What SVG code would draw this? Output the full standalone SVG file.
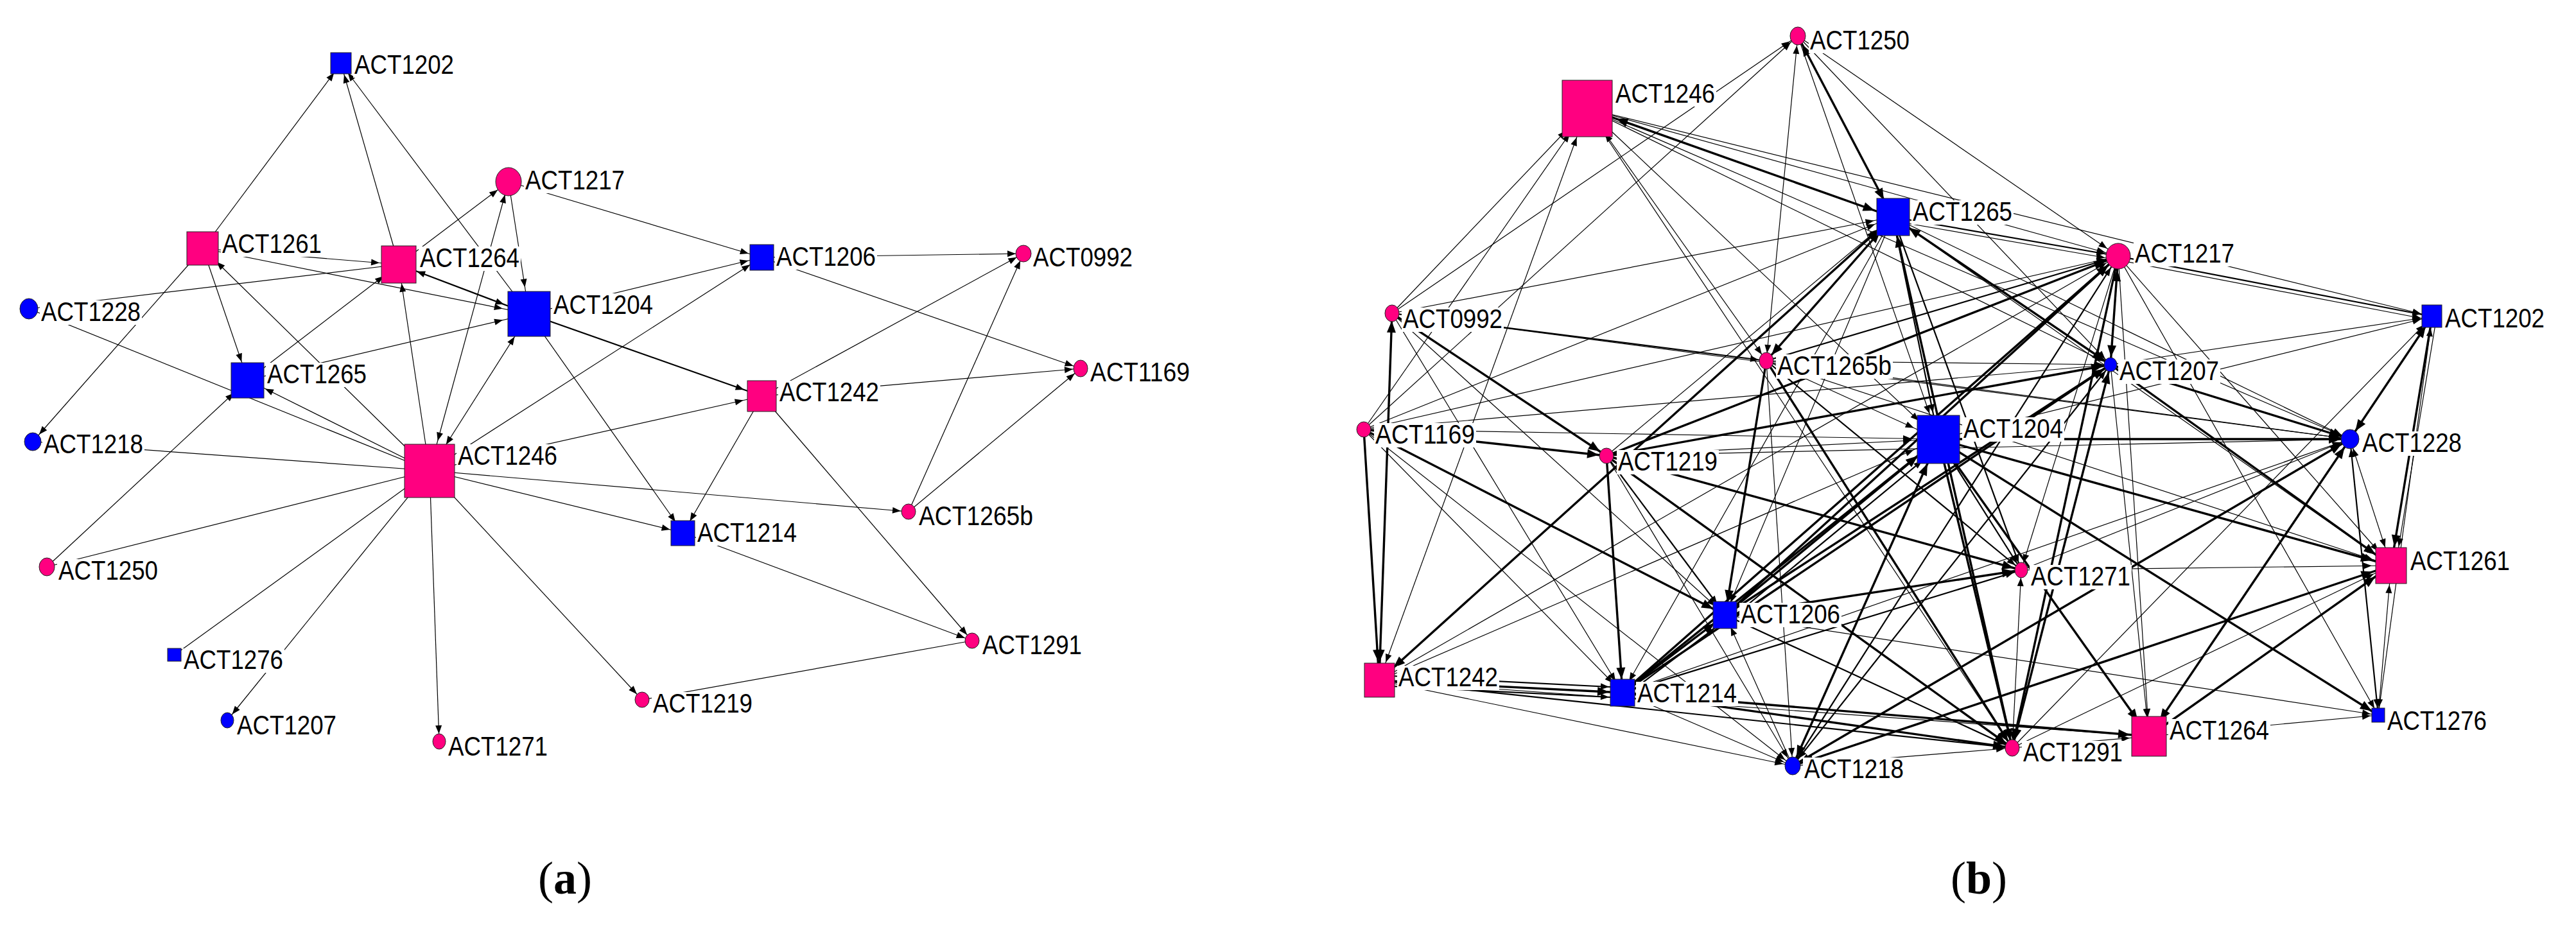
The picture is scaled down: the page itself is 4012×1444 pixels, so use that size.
<svg xmlns="http://www.w3.org/2000/svg" width="4012" height="1444" viewBox="0 0 4012 1444">
<style>
.e{stroke:#000;fill:none;stroke-width:1.2}
.w2{stroke-width:2.2}
.w3{stroke-width:3.4}
.pk{fill:#FF0080;stroke:#222;stroke-width:1}
.bl{fill:#0000FF;stroke:#222;stroke-width:1}
.lb{fill:#fff}
.tx{font-family:"Liberation Sans",Arial,sans-serif;font-size:42px;fill:#000}
.cap{font-family:"Liberation Serif","Times New Roman",serif;font-size:72px;fill:#000}
marker path{fill:#000}
</style>
<defs>
<marker id="m12" markerUnits="userSpaceOnUse" markerWidth="13" markerHeight="10" refX="25" refY="5" orient="auto-start-reverse" overflow="visible"><path d="M0,0L13,5L0,10z"/></marker>
<marker id="m15" markerUnits="userSpaceOnUse" markerWidth="13" markerHeight="10" refX="28" refY="5" orient="auto-start-reverse" overflow="visible"><path d="M0,0L13,5L0,10z"/></marker>
<marker id="m18" markerUnits="userSpaceOnUse" markerWidth="13" markerHeight="10" refX="31" refY="5" orient="auto-start-reverse" overflow="visible"><path d="M0,0L13,5L0,10z"/></marker>
<marker id="m21" markerUnits="userSpaceOnUse" markerWidth="13" markerHeight="10" refX="34" refY="5" orient="auto-start-reverse" overflow="visible"><path d="M0,0L13,5L0,10z"/></marker>
<marker id="m30" markerUnits="userSpaceOnUse" markerWidth="13" markerHeight="10" refX="43" refY="5" orient="auto-start-reverse" overflow="visible"><path d="M0,0L13,5L0,10z"/></marker>
<marker id="m42" markerUnits="userSpaceOnUse" markerWidth="13" markerHeight="10" refX="55" refY="5" orient="auto-start-reverse" overflow="visible"><path d="M0,0L13,5L0,10z"/></marker>
<marker id="m48" markerUnits="userSpaceOnUse" markerWidth="13" markerHeight="10" refX="61" refY="5" orient="auto-start-reverse" overflow="visible"><path d="M0,0L13,5L0,10z"/></marker>
<marker id="t12" markerUnits="userSpaceOnUse" markerWidth="18" markerHeight="14" refX="30" refY="7" orient="auto-start-reverse" overflow="visible"><path d="M0,0L18,7L0,14z"/></marker>
<marker id="t15" markerUnits="userSpaceOnUse" markerWidth="18" markerHeight="14" refX="33" refY="7" orient="auto-start-reverse" overflow="visible"><path d="M0,0L18,7L0,14z"/></marker>
<marker id="t18" markerUnits="userSpaceOnUse" markerWidth="18" markerHeight="14" refX="36" refY="7" orient="auto-start-reverse" overflow="visible"><path d="M0,0L18,7L0,14z"/></marker>
<marker id="t21" markerUnits="userSpaceOnUse" markerWidth="18" markerHeight="14" refX="39" refY="7" orient="auto-start-reverse" overflow="visible"><path d="M0,0L18,7L0,14z"/></marker>
<marker id="t30" markerUnits="userSpaceOnUse" markerWidth="18" markerHeight="14" refX="48" refY="7" orient="auto-start-reverse" overflow="visible"><path d="M0,0L18,7L0,14z"/></marker>
<marker id="t42" markerUnits="userSpaceOnUse" markerWidth="18" markerHeight="14" refX="60" refY="7" orient="auto-start-reverse" overflow="visible"><path d="M0,0L18,7L0,14z"/></marker>
<marker id="t48" markerUnits="userSpaceOnUse" markerWidth="18" markerHeight="14" refX="66" refY="7" orient="auto-start-reverse" overflow="visible"><path d="M0,0L18,7L0,14z"/></marker>
</defs>
<rect width="4012" height="1444" fill="#fff"/>

<g id="edges-a">
<line class="e" x1="316" y1="387" x2="531" y2="99" marker-end="url(#m18)"/>
<line class="e" x1="621" y1="412" x2="531" y2="99" marker-end="url(#m18)"/>
<line class="e" x1="824" y1="489" x2="531" y2="99" marker-end="url(#m18)"/>
<line class="e" x1="621" y1="412" x2="792" y2="283" marker-end="url(#m21)"/>
<line class="e" x1="669" y1="733" x2="792" y2="283" marker-start="url(#m48)" marker-end="url(#m21)"/>
<line class="e" x1="792" y1="283" x2="824" y2="489" marker-end="url(#m42)"/>
<line class="e" x1="792" y1="283" x2="1186" y2="401" marker-end="url(#m21)"/>
<line class="e" x1="316" y1="387" x2="621" y2="412" marker-end="url(#m30)"/>
<line class="e" x1="316" y1="387" x2="824" y2="489" marker-end="url(#m42)"/>
<line class="e w2" x1="621" y1="412" x2="824" y2="489" marker-start="url(#m30)" marker-end="url(#m42)"/>
<line class="e" x1="45" y1="481" x2="621" y2="412"/>
<line class="e" x1="316" y1="387" x2="386" y2="592" marker-end="url(#m30)"/>
<line class="e" x1="316" y1="387" x2="51" y2="688" marker-end="url(#m15)"/>
<line class="e" x1="45" y1="481" x2="669" y2="733"/>
<line class="e" x1="669" y1="733" x2="316" y2="387" marker-end="url(#m30)"/>
<line class="e" x1="386" y1="592" x2="621" y2="412" marker-end="url(#m30)"/>
<line class="e" x1="386" y1="592" x2="824" y2="489" marker-end="url(#m42)"/>
<line class="e" x1="669" y1="733" x2="621" y2="412" marker-end="url(#m30)"/>
<line class="e" x1="669" y1="733" x2="824" y2="489" marker-start="url(#m48)" marker-end="url(#m42)"/>
<line class="e" x1="669" y1="733" x2="1186" y2="401" marker-end="url(#m21)"/>
<line class="e" x1="824" y1="489" x2="1064" y2="830" marker-end="url(#m21)"/>
<line class="e w2" x1="824" y1="489" x2="1187" y2="617" marker-end="url(#m30)"/>
<line class="e" x1="824" y1="489" x2="1186" y2="401" marker-end="url(#m21)"/>
<line class="e" x1="669" y1="733" x2="386" y2="592" marker-end="url(#m30)"/>
<line class="e" x1="73" y1="883" x2="386" y2="592" marker-end="url(#m30)"/>
<line class="e" x1="73" y1="883" x2="669" y2="733"/>
<line class="e" x1="51" y1="688" x2="669" y2="733"/>
<line class="e" x1="272" y1="1020" x2="669" y2="733"/>
<line class="e" x1="669" y1="733" x2="354" y2="1122" marker-end="url(#m12)"/>
<line class="e" x1="669" y1="733" x2="684" y2="1155" marker-end="url(#m12)"/>
<line class="e" x1="669" y1="733" x2="1000" y2="1090" marker-end="url(#m12)"/>
<line class="e" x1="669" y1="733" x2="1415" y2="797" marker-end="url(#m12)"/>
<line class="e" x1="669" y1="733" x2="1064" y2="830" marker-end="url(#m21)"/>
<line class="e" x1="669" y1="733" x2="1187" y2="617" marker-end="url(#m30)"/>
<line class="e" x1="1187" y1="617" x2="1064" y2="830" marker-end="url(#m21)"/>
<line class="e" x1="1187" y1="617" x2="1514" y2="998" marker-end="url(#m12)"/>
<line class="e" x1="1064" y1="830" x2="1514" y2="998" marker-end="url(#m12)"/>
<line class="e" x1="1514" y1="998" x2="1000" y2="1090"/>
<line class="e" x1="1415" y1="797" x2="1594" y2="395" marker-end="url(#m12)"/>
<line class="e" x1="1415" y1="797" x2="1683" y2="574" marker-end="url(#m12)"/>
<line class="e" x1="1187" y1="617" x2="1594" y2="395" marker-end="url(#m12)"/>
<line class="e" x1="1186" y1="401" x2="1594" y2="395" marker-end="url(#m12)"/>
<line class="e" x1="1186" y1="401" x2="1683" y2="574" marker-end="url(#m12)"/>
<line class="e" x1="1187" y1="617" x2="1683" y2="574" marker-end="url(#m12)"/>
</g>

<g id="edges-b">
<line class="e w3" x1="2948" y1="338" x2="2472" y2="169" marker-start="url(#t30)" marker-end="url(#t48)"/>
<line class="e w3" x1="2800" y1="56" x2="2948" y2="338" marker-start="url(#t15)" marker-end="url(#t30)"/>
<line class="e" x1="2168" y1="488" x2="2472" y2="169" marker-end="url(#m48)"/>
<line class="e" x1="2124" y1="669" x2="2472" y2="169" marker-end="url(#m48)"/>
<line class="e" x1="2148" y1="1060" x2="2472" y2="169" marker-start="url(#m30)" marker-end="url(#m48)"/>
<line class="e" x1="2472" y1="169" x2="3299" y2="399" marker-end="url(#m21)"/>
<line class="e" x1="2472" y1="169" x2="3287" y2="568" marker-end="url(#m12)"/>
<line class="e" x1="2472" y1="169" x2="2751" y2="562" marker-start="url(#m48)" marker-end="url(#m12)"/>
<line class="e" x1="2472" y1="169" x2="3134" y2="1165" marker-end="url(#m12)"/>
<line class="e" x1="2168" y1="488" x2="2800" y2="56" marker-end="url(#m15)"/>
<line class="e" x1="2124" y1="669" x2="2800" y2="56" marker-end="url(#m15)"/>
<line class="e" x1="2168" y1="488" x2="2948" y2="338" marker-end="url(#m30)"/>
<line class="e w2" x1="2168" y1="488" x2="2751" y2="562" marker-end="url(#m12)"/>
<line class="e" x1="2124" y1="669" x2="2948" y2="338" marker-end="url(#m30)"/>
<line class="e" x1="2124" y1="669" x2="3299" y2="399" marker-end="url(#m21)"/>
<line class="e w3" x1="2168" y1="488" x2="2502" y2="710" marker-end="url(#t12)"/>
<line class="e" x1="2168" y1="488" x2="2527" y2="1079" marker-end="url(#m21)"/>
<line class="e" x1="2168" y1="488" x2="2687" y2="958" marker-end="url(#m21)"/>
<line class="e w3" x1="2168" y1="488" x2="2148" y2="1060" marker-start="url(#t12)" marker-end="url(#t30)"/>
<line class="e w3" x1="2124" y1="669" x2="2148" y2="1060" marker-end="url(#t30)"/>
<line class="e w3" x1="2124" y1="669" x2="2502" y2="710" marker-end="url(#t12)"/>
<line class="e" x1="2124" y1="669" x2="2527" y2="1079" marker-end="url(#m21)"/>
<line class="e" x1="2124" y1="669" x2="2792" y2="1193" marker-end="url(#m15)"/>
<line class="e w3" x1="2124" y1="669" x2="2687" y2="958" marker-end="url(#t21)"/>
<line class="e" x1="2124" y1="669" x2="3287" y2="568" marker-end="url(#m12)"/>
<line class="e" x1="2800" y1="56" x2="2751" y2="562" marker-start="url(#m15)" marker-end="url(#m12)"/>
<line class="e" x1="2800" y1="56" x2="3287" y2="568" marker-end="url(#m12)"/>
<line class="e" x1="2800" y1="56" x2="3299" y2="399" marker-end="url(#m21)"/>
<line class="e w2" x1="2948" y1="338" x2="3299" y2="399" marker-end="url(#m21)"/>
<line class="e" x1="2948" y1="344" x2="3299" y2="405" marker-end="url(#m21)"/>
<line class="e w3" x1="3287" y1="568" x2="2948" y2="338" marker-start="url(#t12)" marker-end="url(#t30)"/>
<line class="e w3" x1="2751" y1="562" x2="2948" y2="338" marker-start="url(#t12)" marker-end="url(#t30)"/>
<line class="e w3" x1="2148" y1="1060" x2="2948" y2="338" marker-start="url(#t30)" marker-end="url(#t30)"/>
<line class="e" x1="2502" y1="710" x2="2948" y2="338" marker-end="url(#m30)"/>
<line class="e w3" x1="2948" y1="338" x2="3134" y2="1165" marker-start="url(#t30)" marker-end="url(#t12)"/>
<line class="e w2" x1="2948" y1="338" x2="3148" y2="888" marker-end="url(#m12)"/>
<line class="e w2" x1="2948" y1="338" x2="3019" y2="684" marker-end="url(#m42)"/>
<line class="e" x1="2948" y1="338" x2="2687" y2="958" marker-end="url(#m21)"/>
<line class="e" x1="2948" y1="338" x2="2527" y2="1079" marker-end="url(#m21)"/>
<line class="e" x1="2948" y1="338" x2="3660" y2="684" marker-end="url(#m15)"/>
<line class="e w3" x1="3299" y1="399" x2="3287" y2="568" marker-start="url(#t21)" marker-end="url(#t12)"/>
<line class="e w3" x1="2502" y1="710" x2="3299" y2="399" marker-end="url(#t21)"/>
<line class="e w2" x1="2751" y1="562" x2="3299" y2="399" marker-end="url(#m21)"/>
<line class="e w3" x1="2687" y1="958" x2="3299" y2="399" marker-end="url(#t21)"/>
<line class="e w3" x1="2527" y1="1079" x2="3299" y2="399" marker-end="url(#t21)"/>
<line class="e w2" x1="2792" y1="1193" x2="3299" y2="399" marker-end="url(#m21)"/>
<line class="e" x1="2148" y1="1060" x2="3299" y2="399" marker-end="url(#m21)"/>
<line class="e w2" x1="3299" y1="399" x2="3788" y2="493" marker-end="url(#m18)"/>
<line class="e" x1="3299" y1="405" x2="3788" y2="499" marker-end="url(#m18)"/>
<line class="e" x1="3287" y1="568" x2="3788" y2="493" marker-end="url(#m18)"/>
<line class="e" x1="3019" y1="684" x2="3788" y2="493" marker-end="url(#m18)"/>
<line class="e" x1="3134" y1="1165" x2="3788" y2="493" marker-end="url(#m18)"/>
<line class="e w3" x1="3660" y1="684" x2="3788" y2="493" marker-start="url(#t15)" marker-end="url(#t18)"/>
<line class="e w3" x1="3788" y1="493" x2="3724" y2="881" marker-end="url(#t30)"/>
<line class="e" x1="3795" y1="493" x2="3731" y2="881" marker-end="url(#m30)"/>
<line class="e" x1="3704" y1="1114" x2="3788" y2="493" marker-end="url(#m18)"/>
<line class="e" x1="3299" y1="399" x2="3704" y2="1114" marker-end="url(#m12)"/>
<line class="e w3" x1="3287" y1="568" x2="3660" y2="684" marker-end="url(#t15)"/>
<line class="e" x1="2472" y1="169" x2="3660" y2="684" marker-end="url(#m15)"/>
<line class="e w3" x1="2502" y1="710" x2="2527" y2="1079" marker-end="url(#t21)"/>
<line class="e w2" x1="2502" y1="710" x2="2687" y2="958" marker-end="url(#m21)"/>
<line class="e" x1="2502" y1="710" x2="2792" y2="1193" marker-end="url(#m15)"/>
<line class="e w3" x1="2502" y1="710" x2="3134" y2="1165" marker-end="url(#t12)"/>
<line class="e w3" x1="2502" y1="710" x2="3148" y2="888" marker-end="url(#t12)"/>
<line class="e w3" x1="2502" y1="710" x2="3287" y2="568" marker-end="url(#t12)"/>
<line class="e" x1="2502" y1="710" x2="3660" y2="684" marker-end="url(#m15)"/>
<line class="e w3" x1="2751" y1="562" x2="2687" y2="958" marker-end="url(#t21)"/>
<line class="e w3" x1="2527" y1="1079" x2="2687" y2="958" marker-end="url(#t21)"/>
<line class="e w2" x1="2527" y1="1087" x2="2687" y2="966" marker-end="url(#m21)"/>
<line class="e w3" x1="2148" y1="1060" x2="2527" y2="1079" marker-end="url(#t21)"/>
<line class="e w2" x1="2148" y1="1068" x2="2527" y2="1087" marker-end="url(#m21)"/>
<line class="e w2" x1="2148" y1="1052" x2="2527" y2="1071" marker-end="url(#m21)"/>
<line class="e" x1="2148" y1="1060" x2="2792" y2="1193" marker-end="url(#m15)"/>
<line class="e w2" x1="2148" y1="1060" x2="3134" y2="1165" marker-end="url(#m12)"/>
<line class="e w3" x1="2527" y1="1079" x2="3134" y2="1165" marker-end="url(#t12)"/>
<line class="e w3" x1="2527" y1="1079" x2="3347" y2="1147" marker-end="url(#t30)"/>
<line class="e" x1="2527" y1="1079" x2="2792" y2="1193" marker-end="url(#m15)"/>
<line class="e" x1="2792" y1="1193" x2="2687" y2="958" marker-end="url(#m21)"/>
<line class="e w3" x1="3019" y1="684" x2="3660" y2="684" marker-end="url(#t15)"/>
<line class="e w3" x1="2687" y1="958" x2="3019" y2="684" marker-end="url(#t42)"/>
<line class="e w2" x1="2694" y1="965" x2="3026" y2="691" marker-end="url(#m42)"/>
<line class="e w3" x1="2527" y1="1079" x2="3019" y2="684" marker-end="url(#t42)"/>
<line class="e w3" x1="2527" y1="1079" x2="3287" y2="568" marker-end="url(#t12)"/>
<line class="e w3" x1="2687" y1="958" x2="3287" y2="568" marker-end="url(#t12)"/>
<line class="e" x1="2751" y1="562" x2="3660" y2="684" marker-end="url(#m15)"/>
<line class="e" x1="2168" y1="488" x2="3660" y2="684" marker-end="url(#m15)"/>
<line class="e" x1="2527" y1="1079" x2="3660" y2="684" marker-end="url(#m15)"/>
<line class="e w3" x1="2792" y1="1193" x2="3660" y2="684" marker-end="url(#t15)"/>
<line class="e w3" x1="3347" y1="1147" x2="3660" y2="684" marker-start="url(#t30)" marker-end="url(#t15)"/>
<line class="e" x1="3660" y1="684" x2="3724" y2="881" marker-start="url(#m15)" marker-end="url(#m30)"/>
<line class="e w2" x1="3660" y1="684" x2="3704" y2="1114" marker-start="url(#m15)" marker-end="url(#m12)"/>
<line class="e" x1="3724" y1="881" x2="3704" y2="1114" marker-start="url(#m30)" marker-end="url(#m12)"/>
<line class="e w3" x1="3019" y1="684" x2="3724" y2="881" marker-end="url(#t30)"/>
<line class="e" x1="3148" y1="888" x2="3724" y2="881" marker-end="url(#m30)"/>
<line class="e w3" x1="2792" y1="1193" x2="3724" y2="881" marker-start="url(#t15)" marker-end="url(#t30)"/>
<line class="e" x1="3134" y1="1165" x2="3724" y2="881" marker-end="url(#m30)"/>
<line class="e w3" x1="3347" y1="1147" x2="3724" y2="881" marker-end="url(#t30)"/>
<line class="e w3" x1="3287" y1="568" x2="3724" y2="881" marker-end="url(#t30)"/>
<line class="e" x1="2948" y1="338" x2="3724" y2="881" marker-end="url(#m30)"/>
<line class="e w3" x1="3019" y1="684" x2="3704" y2="1114" marker-end="url(#t12)"/>
<line class="e" x1="2687" y1="958" x2="3704" y2="1114" marker-end="url(#m12)"/>
<line class="e" x1="3347" y1="1147" x2="3704" y2="1114" marker-end="url(#m12)"/>
<line class="e w3" x1="3019" y1="684" x2="3347" y2="1147" marker-end="url(#t30)"/>
<line class="e" x1="3299" y1="399" x2="3347" y2="1147" marker-end="url(#m30)"/>
<line class="e" x1="3287" y1="568" x2="3347" y2="1147" marker-end="url(#m30)"/>
<line class="e w3" x1="3287" y1="568" x2="3134" y2="1165" marker-start="url(#t12)" marker-end="url(#t12)"/>
<line class="e w3" x1="3299" y1="399" x2="3134" y2="1165" marker-end="url(#t12)"/>
<line class="e" x1="3148" y1="888" x2="3134" y2="1165" marker-start="url(#m12)" marker-end="url(#m12)"/>
<line class="e w3" x1="2751" y1="562" x2="3134" y2="1165" marker-end="url(#t12)"/>
<line class="e w3" x1="3019" y1="684" x2="3134" y2="1165" marker-end="url(#t12)"/>
<line class="e" x1="2792" y1="1193" x2="3134" y2="1165" marker-end="url(#m12)"/>
<line class="e w2" x1="2687" y1="958" x2="3134" y2="1165" marker-end="url(#m12)"/>
<line class="e" x1="2751" y1="562" x2="2792" y2="1193" marker-end="url(#m15)"/>
<line class="e w3" x1="3019" y1="684" x2="2792" y2="1193" marker-start="url(#t42)" marker-end="url(#t15)"/>
<line class="e w2" x1="3287" y1="568" x2="2792" y2="1193" marker-start="url(#m12)" marker-end="url(#m15)"/>
<line class="e" x1="3660" y1="684" x2="2792" y2="1193" marker-end="url(#m15)"/>
<line class="e w3" x1="2687" y1="958" x2="3148" y2="888" marker-end="url(#t12)"/>
<line class="e w2" x1="2527" y1="1079" x2="3148" y2="888" marker-end="url(#m12)"/>
<line class="e w2" x1="3019" y1="684" x2="3148" y2="888" marker-end="url(#m12)"/>
<line class="e" x1="3299" y1="399" x2="3148" y2="888" marker-end="url(#m12)"/>
<line class="e w2" x1="2751" y1="562" x2="3148" y2="888" marker-end="url(#m12)"/>
<line class="e" x1="3148" y1="888" x2="3660" y2="684" marker-end="url(#m15)"/>
<line class="e" x1="2751" y1="562" x2="3019" y2="684" marker-end="url(#m42)"/>
<line class="e" x1="2751" y1="562" x2="3287" y2="568" marker-end="url(#m12)"/>
<line class="e" x1="2751" y1="562" x2="3724" y2="881" marker-end="url(#m30)"/>
<line class="e" x1="3299" y1="399" x2="3724" y2="881" marker-end="url(#m30)"/>
<line class="e" x1="3134" y1="1165" x2="3347" y2="1147" marker-end="url(#m30)"/>
<line class="e" x1="2148" y1="1060" x2="3347" y2="1147" marker-end="url(#m30)"/>
<line class="e" x1="2124" y1="669" x2="3019" y2="684" marker-end="url(#m42)"/>
<line class="e" x1="2502" y1="710" x2="3019" y2="684" marker-end="url(#m42)"/>
<line class="e" x1="2472" y1="169" x2="3019" y2="684" marker-end="url(#m42)"/>
<line class="e" x1="2800" y1="56" x2="3019" y2="684" marker-end="url(#m42)"/>
<line class="e" x1="2472" y1="169" x2="3788" y2="493" marker-end="url(#m18)"/>
<line class="e" x1="2148" y1="1060" x2="3019" y2="684" marker-end="url(#m42)"/>
</g>

<g id="node-a-ACT1202"><rect class="bl" x="515" y="82" width="32" height="33"/><rect class="lb" x="550" y="83" width="159" height="38"/><text class="tx" x="552" y="115" textLength="155" lengthAdjust="spacingAndGlyphs">ACT1202</text></g>
<g id="node-a-ACT1217"><ellipse class="pk" cx="792" cy="283" rx="20" ry="22"/><rect class="lb" x="816" y="263" width="159" height="38"/><text class="tx" x="818" y="295" textLength="155" lengthAdjust="spacingAndGlyphs">ACT1217</text></g>
<g id="node-a-ACT1261"><rect class="pk" x="291" y="361" width="49" height="52"/><rect class="lb" x="344" y="362" width="159" height="38"/><text class="tx" x="346" y="394" textLength="155" lengthAdjust="spacingAndGlyphs">ACT1261</text></g>
<g id="node-a-ACT1264"><rect class="pk" x="594" y="383" width="54" height="58"/><rect class="lb" x="652" y="384" width="159" height="38"/><text class="tx" x="654" y="416" textLength="155" lengthAdjust="spacingAndGlyphs">ACT1264</text></g>
<g id="node-a-ACT1204"><rect class="bl" x="791" y="454" width="66" height="70"/><rect class="lb" x="860" y="457" width="159" height="38"/><text class="tx" x="862" y="489" textLength="155" lengthAdjust="spacingAndGlyphs">ACT1204</text></g>
<g id="node-a-ACT1228"><ellipse class="bl" cx="45" cy="481" rx="14" ry="16"/><rect class="lb" x="62" y="468" width="159" height="38"/><text class="tx" x="64" y="500" textLength="155" lengthAdjust="spacingAndGlyphs">ACT1228</text></g>
<g id="node-a-ACT1265"><rect class="bl" x="360" y="565" width="51" height="55"/><rect class="lb" x="414" y="565" width="159" height="38"/><text class="tx" x="416" y="597" textLength="155" lengthAdjust="spacingAndGlyphs">ACT1265</text></g>
<g id="node-a-ACT1206"><rect class="bl" x="1168" y="381" width="37" height="40"/><rect class="lb" x="1207" y="382" width="159" height="38"/><text class="tx" x="1209" y="414" textLength="155" lengthAdjust="spacingAndGlyphs">ACT1206</text></g>
<g id="node-a-ACT0992"><ellipse class="pk" cx="1594" cy="395" rx="12" ry="13"/><rect class="lb" x="1607" y="383" width="159" height="38"/><text class="tx" x="1609" y="415" textLength="155" lengthAdjust="spacingAndGlyphs">ACT0992</text></g>
<g id="node-a-ACT1169"><ellipse class="pk" cx="1683" cy="574" rx="11" ry="13"/><rect class="lb" x="1696" y="562" width="159" height="38"/><text class="tx" x="1698" y="594" textLength="155" lengthAdjust="spacingAndGlyphs">ACT1169</text></g>
<g id="node-a-ACT1242"><rect class="pk" x="1164" y="593" width="45" height="48"/><rect class="lb" x="1212" y="593" width="159" height="38"/><text class="tx" x="1214" y="625" textLength="155" lengthAdjust="spacingAndGlyphs">ACT1242</text></g>
<g id="node-a-ACT1218"><ellipse class="bl" cx="51" cy="688" rx="13" ry="14"/><rect class="lb" x="66" y="674" width="159" height="38"/><text class="tx" x="68" y="706" textLength="155" lengthAdjust="spacingAndGlyphs">ACT1218</text></g>
<g id="node-a-ACT1246"><rect class="pk" x="630" y="692" width="78" height="83"/><rect class="lb" x="711" y="692" width="159" height="38"/><text class="tx" x="713" y="724" textLength="155" lengthAdjust="spacingAndGlyphs">ACT1246</text></g>
<g id="node-a-ACT1250"><ellipse class="pk" cx="73" cy="883" rx="12" ry="14"/><rect class="lb" x="89" y="871" width="159" height="38"/><text class="tx" x="91" y="903" textLength="155" lengthAdjust="spacingAndGlyphs">ACT1250</text></g>
<g id="node-a-ACT1276"><rect class="bl" x="261" y="1010" width="21" height="20"/><rect class="lb" x="284" y="1010" width="159" height="38"/><text class="tx" x="286" y="1042" textLength="155" lengthAdjust="spacingAndGlyphs">ACT1276</text></g>
<g id="node-a-ACT1207"><ellipse class="bl" cx="354" cy="1122" rx="10" ry="12"/><rect class="lb" x="367" y="1112" width="159" height="38"/><text class="tx" x="369" y="1144" textLength="155" lengthAdjust="spacingAndGlyphs">ACT1207</text></g>
<g id="node-a-ACT1271"><ellipse class="pk" cx="684" cy="1155" rx="10" ry="12"/><rect class="lb" x="696" y="1145" width="159" height="38"/><text class="tx" x="698" y="1177" textLength="155" lengthAdjust="spacingAndGlyphs">ACT1271</text></g>
<g id="node-a-ACT1214"><rect class="bl" x="1045" y="811" width="37" height="39"/><rect class="lb" x="1084" y="812" width="159" height="38"/><text class="tx" x="1086" y="844" textLength="155" lengthAdjust="spacingAndGlyphs">ACT1214</text></g>
<g id="node-a-ACT1265b"><ellipse class="pk" cx="1415" cy="797" rx="11" ry="12"/><rect class="lb" x="1429" y="786" width="182" height="38"/><text class="tx" x="1431" y="818" textLength="178" lengthAdjust="spacingAndGlyphs">ACT1265b</text></g>
<g id="node-a-ACT1291"><ellipse class="pk" cx="1514" cy="998" rx="11" ry="12"/><rect class="lb" x="1528" y="987" width="159" height="38"/><text class="tx" x="1530" y="1019" textLength="155" lengthAdjust="spacingAndGlyphs">ACT1291</text></g>
<g id="node-a-ACT1219"><ellipse class="pk" cx="1000" cy="1090" rx="11" ry="12"/><rect class="lb" x="1015" y="1078" width="159" height="38"/><text class="tx" x="1017" y="1110" textLength="155" lengthAdjust="spacingAndGlyphs">ACT1219</text></g>

<g id="node-b-ACT1250"><ellipse class="pk" cx="2800" cy="56" rx="12" ry="14"/><rect class="lb" x="2817" y="45" width="159" height="38"/><text class="tx" x="2819" y="77" textLength="155" lengthAdjust="spacingAndGlyphs">ACT1250</text></g>
<g id="node-b-ACT1246"><rect class="pk" x="2433" y="125" width="78" height="88"/><rect class="lb" x="2514" y="128" width="159" height="38"/><text class="tx" x="2516" y="160" textLength="155" lengthAdjust="spacingAndGlyphs">ACT1246</text></g>
<g id="node-b-ACT0992"><ellipse class="pk" cx="2168" cy="488" rx="11" ry="13"/><rect class="lb" x="2183" y="479" width="159" height="38"/><text class="tx" x="2185" y="511" textLength="155" lengthAdjust="spacingAndGlyphs">ACT0992</text></g>
<g id="node-b-ACT1265"><rect class="bl" x="2923" y="309" width="51" height="58"/><rect class="lb" x="2977" y="312" width="159" height="38"/><text class="tx" x="2979" y="344" textLength="155" lengthAdjust="spacingAndGlyphs">ACT1265</text></g>
<g id="node-b-ACT1217"><ellipse class="pk" cx="3299" cy="399" rx="19" ry="20"/><rect class="lb" x="3323" y="377" width="159" height="38"/><text class="tx" x="3325" y="409" textLength="155" lengthAdjust="spacingAndGlyphs">ACT1217</text></g>
<g id="node-b-ACT1202"><rect class="bl" x="3772" y="475" width="31" height="35"/><rect class="lb" x="3806" y="478" width="159" height="38"/><text class="tx" x="3808" y="510" textLength="155" lengthAdjust="spacingAndGlyphs">ACT1202</text></g>
<g id="node-b-ACT1207"><ellipse class="bl" cx="3287" cy="568" rx="10" ry="11"/><rect class="lb" x="3299" y="560" width="159" height="38"/><text class="tx" x="3301" y="592" textLength="155" lengthAdjust="spacingAndGlyphs">ACT1207</text></g>
<g id="node-b-ACT1265b"><ellipse class="pk" cx="2751" cy="562" rx="11" ry="13"/><rect class="lb" x="2766" y="552" width="182" height="38"/><text class="tx" x="2768" y="584" textLength="178" lengthAdjust="spacingAndGlyphs">ACT1265b</text></g>
<g id="node-b-ACT1169"><ellipse class="pk" cx="2124" cy="669" rx="11" ry="12"/><rect class="lb" x="2140" y="659" width="159" height="38"/><text class="tx" x="2142" y="691" textLength="155" lengthAdjust="spacingAndGlyphs">ACT1169</text></g>
<g id="node-b-ACT1219"><ellipse class="pk" cx="2502" cy="710" rx="11" ry="12"/><rect class="lb" x="2518" y="701" width="159" height="38"/><text class="tx" x="2520" y="733" textLength="155" lengthAdjust="spacingAndGlyphs">ACT1219</text></g>
<g id="node-b-ACT1204"><rect class="bl" x="2986" y="647" width="66" height="75"/><rect class="lb" x="3056" y="650" width="159" height="38"/><text class="tx" x="3058" y="682" textLength="155" lengthAdjust="spacingAndGlyphs">ACT1204</text></g>
<g id="node-b-ACT1228"><ellipse class="bl" cx="3660" cy="684" rx="14" ry="15"/><rect class="lb" x="3677" y="672" width="159" height="38"/><text class="tx" x="3679" y="704" textLength="155" lengthAdjust="spacingAndGlyphs">ACT1228</text></g>
<g id="node-b-ACT1242"><rect class="pk" x="2125" y="1033" width="47" height="53"/><rect class="lb" x="2176" y="1037" width="159" height="38"/><text class="tx" x="2178" y="1069" textLength="155" lengthAdjust="spacingAndGlyphs">ACT1242</text></g>
<g id="node-b-ACT1214"><rect class="bl" x="2508" y="1058" width="38" height="42"/><rect class="lb" x="2548" y="1062" width="159" height="38"/><text class="tx" x="2550" y="1094" textLength="155" lengthAdjust="spacingAndGlyphs">ACT1214</text></g>
<g id="node-b-ACT1206"><rect class="bl" x="2668" y="937" width="37" height="42"/><rect class="lb" x="2709" y="939" width="159" height="38"/><text class="tx" x="2711" y="971" textLength="155" lengthAdjust="spacingAndGlyphs">ACT1206</text></g>
<g id="node-b-ACT1271"><ellipse class="pk" cx="3148" cy="888" rx="10" ry="12"/><rect class="lb" x="3161" y="880" width="159" height="38"/><text class="tx" x="3163" y="912" textLength="155" lengthAdjust="spacingAndGlyphs">ACT1271</text></g>
<g id="node-b-ACT1218"><ellipse class="bl" cx="2792" cy="1193" rx="12" ry="14"/><rect class="lb" x="2808" y="1180" width="159" height="38"/><text class="tx" x="2810" y="1212" textLength="155" lengthAdjust="spacingAndGlyphs">ACT1218</text></g>
<g id="node-b-ACT1291"><ellipse class="pk" cx="3134" cy="1165" rx="11" ry="13"/><rect class="lb" x="3149" y="1154" width="159" height="38"/><text class="tx" x="3151" y="1186" textLength="155" lengthAdjust="spacingAndGlyphs">ACT1291</text></g>
<g id="node-b-ACT1264"><rect class="pk" x="3320" y="1116" width="54" height="62"/><rect class="lb" x="3377" y="1120" width="159" height="38"/><text class="tx" x="3379" y="1152" textLength="155" lengthAdjust="spacingAndGlyphs">ACT1264</text></g>
<g id="node-b-ACT1261"><rect class="pk" x="3700" y="853" width="48" height="56"/><rect class="lb" x="3752" y="856" width="159" height="38"/><text class="tx" x="3754" y="888" textLength="155" lengthAdjust="spacingAndGlyphs">ACT1261</text></g>
<g id="node-b-ACT1276"><rect class="bl" x="3694" y="1103" width="20" height="22"/><rect class="lb" x="3716" y="1105" width="159" height="38"/><text class="tx" x="3718" y="1137" textLength="155" lengthAdjust="spacingAndGlyphs">ACT1276</text></g>

<g id="captions">
<text class="cap" x="880" y="1392" text-anchor="middle">(<tspan font-weight="bold">a</tspan>)</text>
<text class="cap" x="3082" y="1392" text-anchor="middle">(<tspan font-weight="bold">b</tspan>)</text>
</g>
</svg>
